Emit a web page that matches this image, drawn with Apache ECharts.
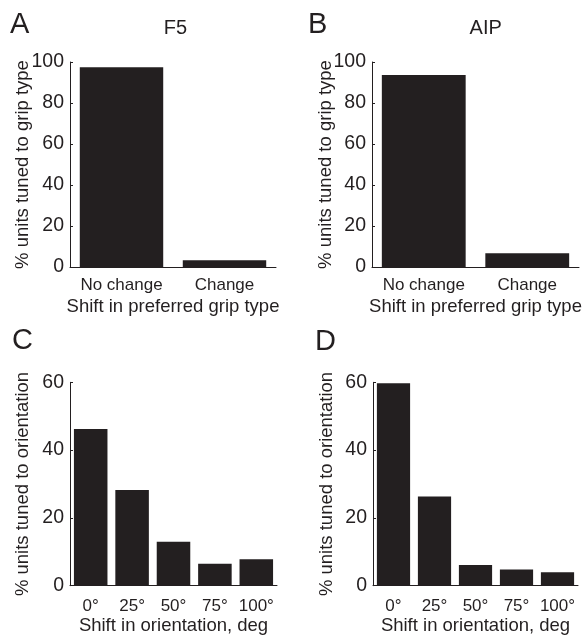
<!DOCTYPE html>
<html>
<head>
<meta charset="utf-8">
<script src="https://cdn.jsdelivr.net/npm/echarts@6/dist/echarts.min.js"></script>
<style>
html,body{margin:0;padding:0;background:#fff;}
#chart{width:586px;height:637px;}
</style>
</head>
<body>
<div id="chart"></div>
<script>
// Data
const gripCategories = ['No change', 'Change'];
const f5GripValues = [97.4, 3.3];
const aipGripValues = [93.7, 6.7];
const orientCategories = ['0°', '25°', '50°', '75°', '100°'];
const f5OrientValues = [46.2, 28.2, 13.0, 6.5, 7.8];
const aipOrientValues = [59.7, 26.3, 6.1, 4.8, 4.0];
const gripTicks = [0, 20, 40, 60, 80, 100];
const orientTicks = [0, 20, 40, 60];
const panelTitles = ['F5', 'AIP'];
const panelLetters = ['A', 'B', 'C', 'D'];
const gripXName = 'Shift in preferred grip type';
const gripYName = '% units tuned to grip type';
const orientXName = 'Shift in orientation, deg';
const orientYName = '% units tuned to orientation';

const FONT = "'Liberation Sans', Arial, sans-serif";
const INK = '#231f20';

const chart = echarts.init(document.getElementById('chart'), null, {renderer: 'canvas'});

const grids = [
  {left: 70, top: 62, width: 206, height: 205},
  {left: 372, top: 62, width: 207, height: 205},
  {left: 70, top: 382.3, width: 207, height: 203.4},
  {left: 373, top: 382.3, width: 205, height: 203.4}
];

function xAxis(i, cats, name, margin, gap) {
  return {
    type: 'category', gridIndex: i, data: cats,
    name: name, nameLocation: 'middle', nameGap: gap, nameMoveOverlap: false,
    nameTextStyle: {fontFamily: FONT, fontSize: 18.5, color: INK},
    axisLine: {show: true, lineStyle: {color: INK, width: 1}},
    axisTick: {show: false},
    axisLabel: {fontFamily: FONT, fontSize: 17, color: INK, margin: margin, interval: 0, hideOverlap: false},
    splitLine: {show: false}
  };
}
function yAxis(i, ticks, name, gap) {
  return {
    type: 'value', gridIndex: i,
    min: ticks[0], max: ticks[ticks.length - 1], interval: ticks[1] - ticks[0],
    name: name, nameLocation: 'middle', nameGap: gap, nameRotate: 90, nameMoveOverlap: false,
    nameTextStyle: {fontFamily: FONT, fontSize: 18.5, color: INK},
    axisLine: {show: true, lineStyle: {color: INK, width: 1}},
    axisTick: {show: true, inside: true, length: 3, lineStyle: {color: INK}},
    axisLabel: {fontFamily: FONT, fontSize: 19.5, color: INK, margin: 6},
    splitLine: {show: false}
  };
}
function barSeries(i, values) {
  return {
    type: 'bar', xAxisIndex: i, yAxisIndex: i, data: values,
    barCategoryGap: '19%',
    itemStyle: {color: INK},
    silent: true, animation: false
  };
}

const letterPos = [[10, 25], [308, 25], [12, 341], [315, 342]];
const titlePos = [[175.5, 28], [485.7, 28]];

const graphic = [];
panelLetters.forEach((t, k) => {
  graphic.push({type: 'text', x: letterPos[k][0], y: letterPos[k][1],
    style: {text: t, fontFamily: FONT, fontSize: 29, fill: INK, textAlign: 'left', textVerticalAlign: 'middle'}});
});
panelTitles.forEach((t, k) => {
  graphic.push({type: 'text', x: titlePos[k][0], y: titlePos[k][1],
    style: {text: t, fontFamily: FONT, fontSize: 20, fill: INK, textAlign: 'center', textVerticalAlign: 'middle'}});
});

chart.setOption({
  animation: false,
  backgroundColor: '#ffffff',
  grid: grids,
  xAxis: [
    xAxis(0, gripCategories, gripXName, 10, 30),
    xAxis(1, gripCategories, gripXName, 10, 30),
    xAxis(2, orientCategories, orientXName, 12, 31),
    xAxis(3, orientCategories, orientXName, 12, 31)
  ],
  yAxis: [
    yAxis(0, gripTicks, gripYName, 38),
    yAxis(1, gripTicks, gripYName, 37),
    yAxis(2, orientTicks, orientYName, 38),
    yAxis(3, orientTicks, orientYName, 37)
  ],
  series: [
    barSeries(0, f5GripValues),
    barSeries(1, aipGripValues),
    barSeries(2, f5OrientValues),
    barSeries(3, aipOrientValues)
  ],
  graphic: graphic
});
</script>
</body>
</html>
